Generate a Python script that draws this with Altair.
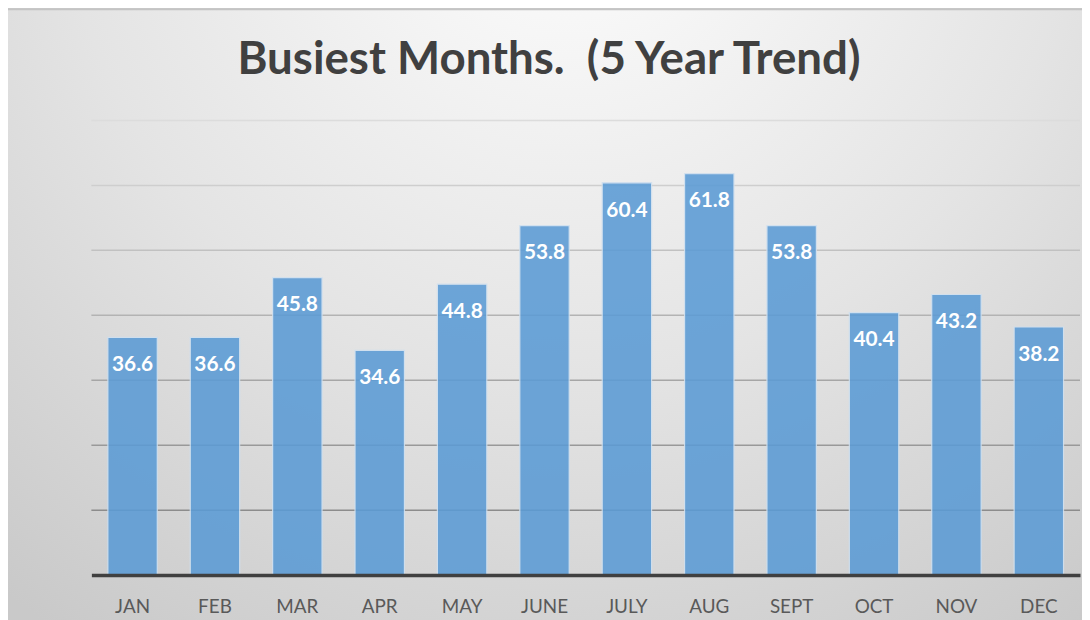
import altair as alt
import pandas as pd

months = ["JAN", "FEB", "MAR", "APR", "MAY", "JUNE", "JULY", "AUG", "SEPT", "OCT", "NOV", "DEC"]
values = [36.6, 36.6, 45.8, 34.6, 44.8, 53.8, 60.4, 61.8, 53.8, 40.4, 43.2, 38.2]
grid_values = [10, 20, 30, 40, 50, 60, 70]

df = pd.DataFrame({"month": months, "value": values})
gdf = pd.DataFrame({"g": grid_values})

W, H = 996, 458
PAD = {"left": 84, "top": 111, "right": 2, "bottom": 50}

xscale = alt.Scale(domain=months, paddingInner=0.4, paddingOuter=0.2)
yscale = alt.Scale(domain=[0, 70], nice=False)

bg = alt.Chart(pd.DataFrame({"a": [0]})).mark_rect(
    fill=alt.Gradient(
        gradient="radial",
        x1=0.52, y1=0.08, x2=0.52, y2=0.08, r1=0, r2=0.85,
        stops=[alt.GradientStop(color="#ffffff", offset=0),
               alt.GradientStop(color="#e4e4e4", offset=0.55),
               alt.GradientStop(color="#c9c9c9", offset=1)],
    ),
    stroke="#c4c4c4", strokeWidth=2, clip=False,
).encode(
    x=alt.value(-PAD["left"] - 1), x2=alt.value(W + PAD["right"] + 4),
    y=alt.value(-PAD["top"] - 1), y2=alt.value(H + PAD["bottom"] + 10),
)

grid = alt.Chart(gdf).mark_rule(strokeWidth=1.5).encode(
    y=alt.Y("g:Q", scale=yscale, axis=None),
    x=alt.value(0), x2=alt.value(W),
    color=alt.Color("g:Q", scale=alt.Scale(domain=[10, 70], range=["#8c8c8c", "#dcdcdc"]), legend=None),
)

bars = alt.Chart(df).mark_bar(
    color="#5b9bd5", opacity=0.88, stroke="#cfe0f0", strokeWidth=1.2
).encode(
    x=alt.X("month:N", sort=months, scale=xscale,
            axis=alt.Axis(title=None, labelAngle=0, ticks=False, domain=True,
                          domainColor="#404040", domainWidth=3.5, labelPadding=23,
                          labelFontSize=19, labelColor="#595959", labelFont="Lato",
                          grid=False, zindex=2)),
    y=alt.Y("value:Q", scale=yscale, axis=None),
)

labels = alt.Chart(df).mark_text(
    color="white", fontSize=21, fontWeight="bold", font="Lato", dy=28, baseline="middle"
).encode(
    x=alt.X("month:N", sort=months, scale=xscale),
    y=alt.Y("value:Q", scale=yscale),
    text=alt.Text("value:Q", format=".1f"),
)

chart = alt.layer(bg, grid, bars, labels).properties(
    width=W, height=H,
    title=alt.Title("Busiest Months.\u00a0 (5 Year Trend)", fontSize=46, font="Lato",
                    fontWeight="bold", color="#404040", anchor="middle", frame="group",
                    dx=-37, offset=-112, baseline="alphabetic"),
    autosize=alt.AutoSizeParams(type="none"),
    padding=PAD,
).configure_view(stroke=None).configure(background="#d0d0d0")

chart.save("out.html", embed_options={"renderer": "svg", "actions": False})
